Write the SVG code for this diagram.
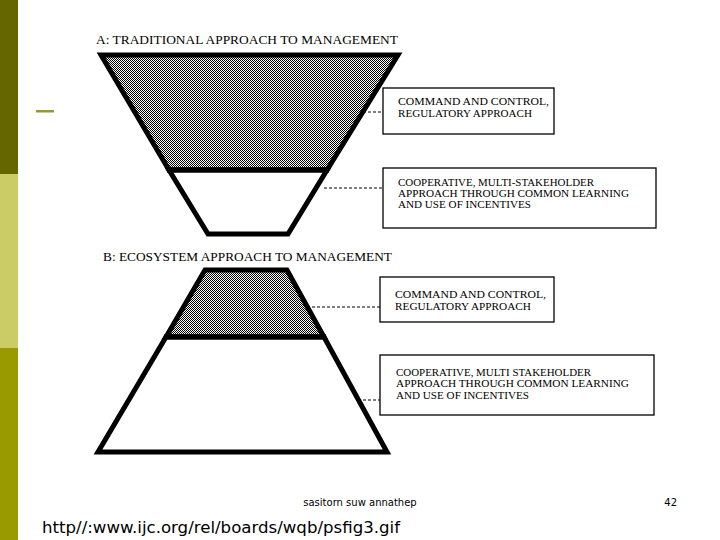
<svg xmlns="http://www.w3.org/2000/svg" width="720" height="540" viewBox="0 0 720 540">
<style>
.ttl{font-family:"Liberation Serif","DejaVu Serif",serif;font-size:12px;fill:#000}
.lbl{font-family:"Liberation Serif","DejaVu Serif",serif;font-size:10px;fill:#000}
.box{fill:#fff;stroke:#000;stroke-width:1.3}
.trap{stroke:#000;stroke-width:5;stroke-linejoin:miter}
.sep{stroke:#000;stroke-width:5}
.dash{stroke:#000;stroke-width:1;stroke-dasharray:3 2;fill:none}
.foot{font-family:"DejaVu Sans","Liberation Sans",sans-serif;fill:#000}
</style>
<defs>
<pattern id="dither" width="4" height="4" patternUnits="userSpaceOnUse">
<rect width="4" height="4" fill="#fff"/>
<g fill="#000" shape-rendering="crispEdges">
<rect x="0" y="0" width="1" height="1"/>
<rect x="2" y="0" width="1" height="1"/>
<rect x="1" y="1" width="1" height="1"/>
<rect x="3" y="1" width="1" height="1"/>
<rect x="0" y="2" width="1" height="1"/>
<rect x="2" y="2" width="1" height="1"/>
<rect x="1" y="3" width="1" height="1"/>
<rect x="3" y="3" width="1" height="1"/>
</g>
</pattern>
</defs>
<rect width="720" height="540" fill="#fff"/>
<g id="sidebar">
<rect x="0" y="0" width="18" height="174" fill="#666600"/>
<rect x="0" y="174" width="18" height="174" fill="#cccc66"/>
<rect x="0" y="348" width="18" height="192" fill="#999900"/>
<rect x="36" y="110" width="18" height="2.5" fill="#999933"/>
</g>
<g id="titleA"><text class="ttl" x="96" y="44" textLength="302" lengthAdjust="spacingAndGlyphs">A: TRADITIONAL APPROACH TO MANAGEMENT</text></g>
<g id="trapA">
<polygon class="trap" points="101,55 398,55 327,170 169,170" fill="url(#dither)"/>
<polygon class="trap" points="169,170 327,170 288,234 208,234" fill="#fff"/>
<line class="sep" x1="167" y1="170" x2="329" y2="170"/>
</g>
<g id="boxA1">
<rect class="box" x="383" y="88" width="171" height="46"/>
<text class="lbl" x="398" y="105" textLength="151" lengthAdjust="spacingAndGlyphs">COMMAND AND CONTROL,</text>
<text class="lbl" x="398" y="117" textLength="134" lengthAdjust="spacingAndGlyphs">REGULATORY APPROACH</text>
</g>
<g id="boxA2">
<rect class="box" x="383" y="168" width="273" height="60"/>
<text class="lbl" x="398" y="186" textLength="196" lengthAdjust="spacingAndGlyphs">COOPERATIVE, MULTI-STAKEHOLDER</text>
<text class="lbl" x="398" y="197" textLength="231" lengthAdjust="spacingAndGlyphs">APPROACH THROUGH COMMON LEARNING</text>
<text class="lbl" x="398" y="208" textLength="133" lengthAdjust="spacingAndGlyphs">AND USE OF INCENTIVES</text>
</g>
<g id="titleB"><text class="ttl" x="103" y="261" textLength="289" lengthAdjust="spacingAndGlyphs">B: ECOSYSTEM APPROACH TO MANAGEMENT</text></g>
<g id="trapB">
<polygon class="trap" points="205,270 287,270 324,337 166,337" fill="url(#dither)"/>
<polygon class="trap" points="166,337 324,337 387,452 98,452" fill="#fff"/>
<line class="sep" x1="164" y1="337" x2="326" y2="337"/>
</g>
<g id="boxB1">
<rect class="box" x="380" y="277" width="174" height="45"/>
<text class="lbl" x="395" y="298" textLength="151" lengthAdjust="spacingAndGlyphs">COMMAND AND CONTROL,</text>
<text class="lbl" x="395" y="310" textLength="136" lengthAdjust="spacingAndGlyphs">REGULATORY APPROACH</text>
</g>
<g id="boxB2">
<rect class="box" x="380" y="355" width="274" height="60"/>
<text class="lbl" x="396" y="376" textLength="195" lengthAdjust="spacingAndGlyphs">COOPERATIVE, MULTI STAKEHOLDER</text>
<text class="lbl" x="396" y="387" textLength="233" lengthAdjust="spacingAndGlyphs">APPROACH THROUGH COMMON LEARNING</text>
<text class="lbl" x="396" y="399" textLength="133" lengthAdjust="spacingAndGlyphs">AND USE OF INCENTIVES</text>
</g>
<g id="connectors">
<line class="dash" x1="363" y1="112" x2="383" y2="112"/>
<line class="dash" x1="324" y1="188" x2="383" y2="188"/>
<line class="dash" x1="307" y1="307" x2="380" y2="307"/>
<line class="dash" x1="358" y1="400" x2="380" y2="400" stroke-width="1.8"/>
</g>
<g id="footer">
<text class="foot" x="360" y="506" font-size="10" text-anchor="middle">sasitorn suw annathep</text>
<text class="foot" x="677" y="506" font-size="10" text-anchor="end">42</text>
<text class="foot" x="42" y="533" font-size="16" textLength="358" lengthAdjust="spacingAndGlyphs">http//:www.ijc.org/rel/boards/wqb/psfig3.gif</text>
</g>
</svg>
